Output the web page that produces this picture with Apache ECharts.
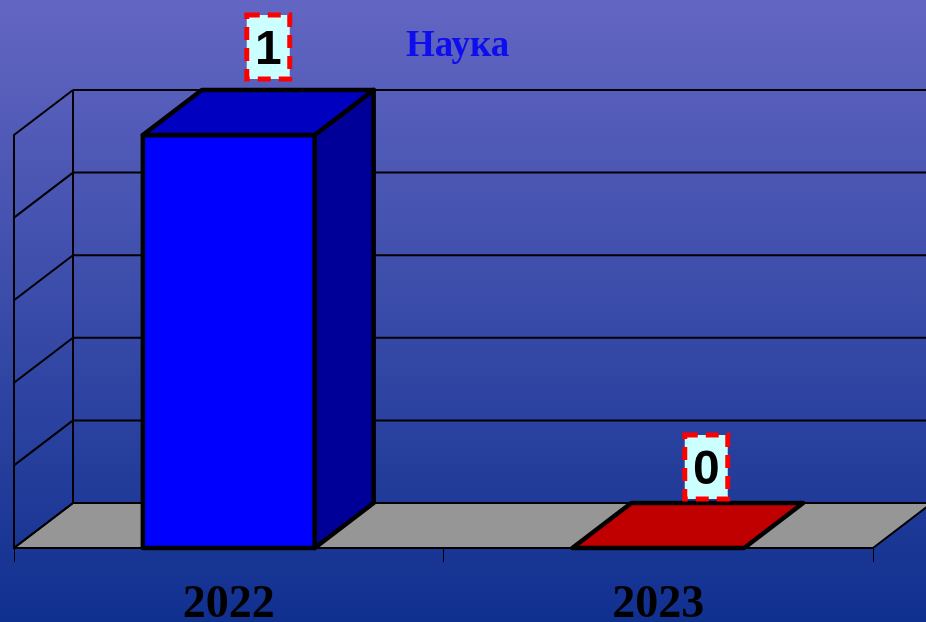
<!DOCTYPE html>
<html>
<head>
<meta charset="utf-8">
<style>html,body{margin:0;padding:0;background:#1a3494}#c{width:926px;height:622px}</style>
<script src="https://cdn.jsdelivr.net/npm/echarts@6/dist/echarts.min.js"></script>
</head>
<body>
<div id="c"></div>
<script>
const categories = ['2022', '2023'];
const values = [1, 0];
const gridTicks = [0, 0.2, 0.4, 0.6, 0.8, 1];
const seriesName = 'Наука';

const DX = 59, DY = 45;
const FRONT = ['#0000ff', '#ff0000'];
const TOP = ['#0000c0', '#c00000'];
const SIDE = ['#000099', '#990000'];
const LABEL_NUDGE = [[39.5, -88], [48, -81]];

function poly(points, fill, stroke, lw) {
  return { type: 'polygon', shape: { points }, style: { fill, stroke, lineWidth: lw, lineJoin: 'round' } };
}
function line(x1, y1, x2, y2, w) {
  return { type: 'line', shape: { x1, y1, x2, y2 }, style: { stroke: '#000', lineWidth: w, fill: null } };
}

const chart = echarts.init(document.getElementById('c'), null, { renderer: 'canvas' });
chart.setOption({
  animation: false,
  backgroundColor: {
    type: 'linear', x: 0, y: 0, x2: 0, y2: 1,
    colorStops: [{ offset: 0, color: '#6366c2' }, { offset: 1, color: '#10308f' }]
  },
  title: {
    text: seriesName, left: 406, top: 28, padding: 0,
    textStyle: { fontFamily: 'Liberation Serif', fontWeight: 'bold', fontSize: 37, color: '#0d0df0' }
  },
  grid: { left: 14, right: 53, top: 135, bottom: 74, containLabel: false, outerBoundsMode: 'none' },
  xAxis: {
    type: 'category', data: categories, boundaryGap: true,
    axisLine: { show: true, lineStyle: { color: '#000', width: 1 } },
    axisTick: { show: true, length: 14, lineStyle: { color: '#000', width: 1 } },
    axisLabel: { margin: 34, color: '#000', fontFamily: 'Liberation Serif', fontWeight: 'bold', fontSize: 46 }
  },
  yAxis: {
    type: 'value', min: 0, max: 1, interval: 0.2,
    axisLine: { show: true, lineStyle: { color: '#000', width: 2 } },
    axisTick: { show: false }, axisLabel: { show: false }, splitLine: { show: false }
  },
  series: [
    {
      type: 'custom', name: 'walls', silent: true, z: 1, clip: false,
      data: gridTicks.map(v => [v]),
      encode: { y: 0 },
      renderItem(params, api) {
        const cs = params.coordSys;
        const L = cs.x, R = cs.x + cs.width;
        const v = api.value(0);
        const y = api.coord([0, v])[1];
        const ch = [];
        if (v === 0) {
          ch.push(poly([[L, y], [L + DX, y - DY], [R + DX, y - DY], [R, y]], '#969696', '#000', 2));
        } else {
          ch.push(line(L + DX, y - DY, R + DX, y - DY, 2));
        }
        ch.push(line(L, y, L + DX, y - DY, 2));
        if (v === 1) ch.push(line(L + DX, y - DY, L + DX, api.coord([0, 0])[1] - DY, 2));
        return { type: 'group', children: ch };
      }
    },
    {
      type: 'custom', name: seriesName, z: 3, clip: false,
      data: values.map((v, i) => [i, v]),
      encode: { x: 0, y: 1 },
      renderItem(params, api) {
        const i = api.value(0), v = api.value(1);
        const top = api.coord([i, v]), base = api.coord([i, 0]);
        const w = api.size([1, 0])[0] * 0.4;
        const l = top[0] - w / 2, r = top[0] + w / 2;
        const t = top[1], b = base[1];
        const ch = [];
        if (v > 0) {
          ch.push(poly([[r, t], [r + DX, t - DY], [r + DX, b - DY], [r, b]], SIDE[i], '#000', 4.5));
          ch.push(poly([[l, t], [r, t], [r, b], [l, b]], FRONT[i], '#000', 4.5));
        }
        ch.push(poly([[l, t], [l + DX, t - DY], [r + DX, t - DY], [r, t]], TOP[i], '#000', 4.5));
        return { type: 'group', children: ch };
      }
    },
    {
      type: 'custom', name: 'labels', z: 5, clip: false, silent: true,
      data: values.map((v, i) => [i, v]),
      encode: { x: 0, y: 1 },
      renderItem(params, api) {
        const i = api.value(0), v = api.value(1);
        const p = api.coord([i, v]);
        const cx = p[0] + LABEL_NUDGE[i][0], cy = p[1] + LABEL_NUDGE[i][1];
        return {
          type: 'group',
          children: [
            { type: 'rect', shape: { x: cx - 21.5, y: cy - 32, width: 43, height: 64 },
              style: { fill: '#ccffff', stroke: '#ff0000', lineWidth: 5, lineDash: [13, 8] } },
            { type: 'text', style: { x: cx, y: cy + 3.5, text: String(v), align: 'center', verticalAlign: 'middle',
              fill: '#000', font: 'bold 48px "Liberation Sans"' } }
          ]
        };
      }
    }
  ]
});
</script>
</body>
</html>
